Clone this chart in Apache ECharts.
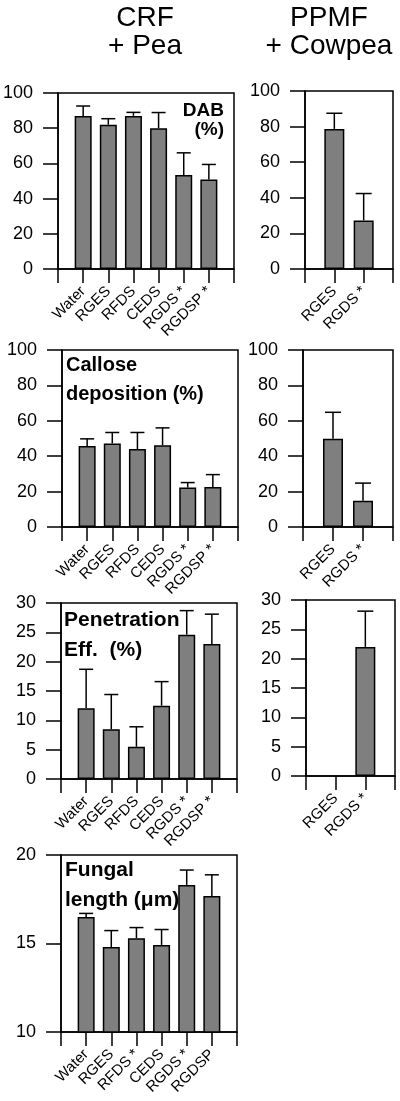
<!DOCTYPE html>
<html>
<head>
<meta charset="utf-8">
<script src="https://cdn.jsdelivr.net/npm/echarts@6/dist/echarts.min.js"></script>
<style>
html,body{margin:0;padding:0;background:#fff;}
#chart{width:400px;height:1101px;}
</style>
</head>
<body>
<div id="chart"></div>
<script>
// ---------- data ----------
const crfCats = ['Water', 'RGES', 'RFDS', 'CEDS', 'RGDS *', 'RGDSP *'];
const fungalCats = ['Water', 'RGES', 'RFDS *', 'CEDS', 'RGDS *', 'RGDSP'];
const ppmfCats = ['RGES', 'RGDS *'];

const dabCrf = [87, 82, 87, 80, 53.4, 50.9];
const dabCrfSd = [5.6, 3.4, 2, 8.9, 12.6, 8.5];
const dabPpmf = [78.7, 27.3];
const dabPpmfSd = [8.8, 15.1];

const calloseCrf = [45.8, 47.2, 44, 46.2, 22.3, 22.6];
const calloseCrfSd = [4, 6.2, 9.4, 9.8, 2.8, 7];
const callosePpmf = [49.8, 14.8];
const callosePpmfSd = [15, 10];

const penCrf = [12.05, 8.5, 5.5, 12.5, 24.6, 23.0];
const penCrfSd = [6.65, 5.9, 3.4, 4.1, 4.1, 5.1];
const penPpmf = [null, 22.0];
const penPpmfSd = [null, 6.1];

const fungalCrf = [16.5, 14.8, 15.3, 14.92, 18.31, 17.69];
const fungalCrfSd = [0.2, 0.93, 0.6, 0.87, 0.84, 1.19];

const yTicks100 = {min: 0, max: 100, interval: 20};
const yTicks30 = {min: 0, max: 30, interval: 5};
const yTicks20 = {min: 10, max: 20, interval: 5};

// ---------- layout ----------
const FONT = '"Liberation Sans", Arial, Helvetica, sans-serif';
const BAR_COLOR = '#7f7f7f';

const panels = [
  {grid: {left: 58, top: 93, width: 176, height: 176}, cats: crfCats, vals: dabCrf, sd: dabCrfSd, y: yTicks100, bw: 17, cap: 7},
  {grid: {left: 305, top: 91, width: 88, height: 178}, cats: ppmfCats, vals: dabPpmf, sd: dabPpmfSd, y: yTicks100, bw: 20, cap: 8},
  {grid: {left: 62, top: 350, width: 176, height: 177}, cats: crfCats, vals: calloseCrf, sd: calloseCrfSd, y: yTicks100, bw: 17, cap: 7},
  {grid: {left: 303, top: 350, width: 90, height: 177}, cats: ppmfCats, vals: callosePpmf, sd: callosePpmfSd, y: yTicks100, bw: 20, cap: 8},
  {grid: {left: 61, top: 603, width: 176, height: 176}, cats: crfCats, vals: penCrf, sd: penCrfSd, y: yTicks30, bw: 17, cap: 7},
  {grid: {left: 306, top: 600, width: 89, height: 176}, cats: ppmfCats, vals: penPpmf, sd: penPpmfSd, y: yTicks30, bw: 20, cap: 8},
  {grid: {left: 61, top: 855, width: 176, height: 177}, cats: fungalCats, vals: fungalCrf, sd: fungalCrfSd, y: yTicks20, bw: 17, cap: 7}
];

const grids = [], xAxes = [], yAxes = [], series = [];
panels.forEach((p, i) => {
  grids.push(Object.assign({show: true, borderColor: '#000', borderWidth: 1.5, backgroundColor: 'transparent', containLabel: false}, p.grid));
  xAxes.push({
    type: 'category', gridIndex: i, boundaryGap: false,
    data: [''].concat(p.cats).concat(['']),
    axisLine: {show: true, lineStyle: {color: '#000', width: 1.5}},
    axisTick: {show: true, interval: 0, length: 14, inside: false, lineStyle: {color: '#000', width: 1.5}},
    axisLabel: {interval: 0, rotate: 45, margin: 20, color: '#000', fontSize: 15, fontFamily: FONT},
    splitLine: {show: false}
  });
  yAxes.push({
    type: 'value', gridIndex: i, min: p.y.min, max: p.y.max, interval: p.y.interval,
    axisLine: {show: true, lineStyle: {color: '#000', width: 1.5}},
    axisTick: {show: true, length: 15, inside: false, lineStyle: {color: '#000', width: 1.5}},
    axisLabel: {margin: 25, color: '#000', fontSize: 18, fontFamily: FONT},
    splitLine: {show: false}
  });
  const barData = [null].concat(p.vals).concat([null]);
  series.push({
    type: 'bar', xAxisIndex: i, yAxisIndex: i, data: barData, barWidth: p.bw,
    itemStyle: {color: BAR_COLOR, borderColor: '#000', borderWidth: 1.5},
    silent: true, animation: false, z: 2
  });
  const errData = [];
  p.vals.forEach((v, k) => {
    if (v != null && p.sd[k] != null) errData.push([k + 1, v, p.sd[k]]);
  });
  const cap = p.cap;
  series.push({
    type: 'custom', xAxisIndex: i, yAxisIndex: i, data: errData, animation: false, silent: true, z: 3,
    renderItem: function (params, api) {
      const x = api.value(0), v = api.value(1), e = api.value(2);
      const a = api.coord([x, v]);
      const b = api.coord([x, v + e]);
      const st = {stroke: '#000', lineWidth: 1.5};
      return {
        type: 'group',
        children: [
          {type: 'line', shape: {x1: a[0], y1: a[1], x2: b[0], y2: b[1]}, style: st},
          {type: 'line', shape: {x1: b[0] - cap, y1: b[1], x2: b[0] + cap, y2: b[1]}, style: st}
        ]
      };
    }
  });
});

const titleFont = (size, weight) => (weight || 'normal') + ' ' + size + 'px ' + FONT;
const graphics = [
  {type: 'text', x: 145, y: 4, style: {text: 'CRF\n+ Pea', font: titleFont(28), textAlign: 'center', textVerticalAlign: 'top', lineHeight: 28, fill: '#000'}},
  {type: 'text', x: 329, y: 4, style: {text: 'PPMF\n+ Cowpea', font: titleFont(28), textAlign: 'center', textVerticalAlign: 'top', lineHeight: 28, fill: '#000'}},
  {type: 'text', x: 224, y: 101, style: {text: 'DAB\n(%)', font: titleFont(19, 'bold'), textAlign: 'right', textVerticalAlign: 'top', lineHeight: 19, fill: '#000'}},
  {type: 'text', x: 66, y: 351, style: {text: 'Callose\ndeposition (%)', font: titleFont(20, 'bold'), textAlign: 'left', textVerticalAlign: 'top', lineHeight: 29, fill: '#000'}},
  {type: 'text', x: 64, y: 605, style: {text: 'Penetration\nEff.  (%)', font: titleFont(21, 'bold'), textAlign: 'left', textVerticalAlign: 'top', lineHeight: 30, fill: '#000'}},
  {type: 'text', x: 65, y: 855, style: {text: 'Fungal\nlength (\u03bcm)', font: titleFont(21, 'bold'), textAlign: 'left', textVerticalAlign: 'top', lineHeight: 30, fill: '#000'}}
];

const chart = echarts.init(document.getElementById('chart'), null, {renderer: 'canvas'});
chart.setOption({
  animation: false,
  backgroundColor: '#fff',
  grid: grids,
  xAxis: xAxes,
  yAxis: yAxes,
  series: series,
  graphic: graphics
});
</script>
</body>
</html>
